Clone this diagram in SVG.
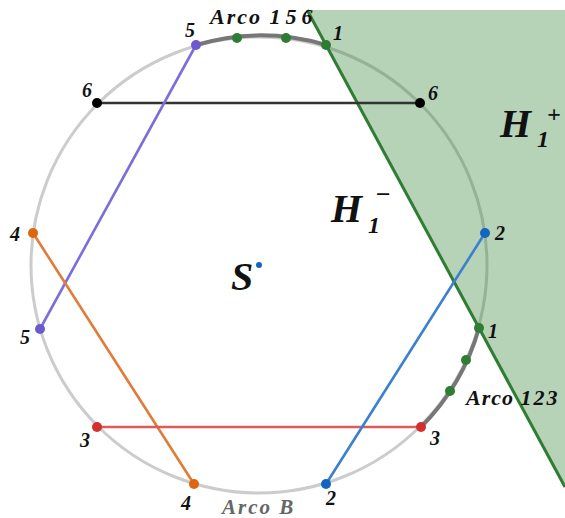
<svg xmlns="http://www.w3.org/2000/svg" width="565" height="518" viewBox="0 0 565 518">
<style>
.lbl{font-family:"Liberation Serif","DejaVu Serif",serif;font-style:italic;font-weight:bold;fill:#111;font-size:20px}
.arc{font-family:"Liberation Serif","DejaVu Serif",serif;font-style:italic;font-weight:bold;fill:#111;font-size:22px;letter-spacing:2px}
.big{font-family:"Liberation Serif","DejaVu Serif",serif;font-style:italic;font-weight:bold;fill:#111}
.seg{stroke-width:2.6;fill:none}
</style>
<rect width="565" height="518" fill="#fff"/>
<g id="circle"><circle cx="259" cy="265" r="228" fill="none" stroke="#cccccc" stroke-width="3"/></g>
<g id="halfplane"><polygon points="307.1,10 565,10 565,487" fill="#2e7d32" fill-opacity="0.35"/></g>
<g id="arcs" fill="none" stroke="#777" stroke-width="4">
<path d="M196,45 A228,228 0 0 1 326,45"/>
<path d="M479,328 A228,228 0 0 1 421,427"/>
</g>
<g id="connectors">
<line x1="307.1" y1="10" x2="565" y2="487" stroke="#2e7d32" stroke-width="3"/>
<line class="seg" x1="97" y1="103" x2="420" y2="103" stroke="#333"/>
<line class="seg" x1="196" y1="45" x2="40" y2="329" stroke="#7b6ddc"/>
<line class="seg" x1="33" y1="233" x2="194" y2="484" stroke="#e07b39"/>
<line class="seg" x1="97" y1="427" x2="421" y2="427" stroke="#dd5a5a"/>
<line class="seg" x1="485" y1="233" x2="326" y2="484" stroke="#3a80d0"/>
</g>
<g id="points">
<circle cx="97" cy="103" r="5" fill="#000"/>
<circle cx="420" cy="103" r="5" fill="#000"/>
<circle cx="196" cy="45" r="5" fill="#6a5acd"/>
<circle cx="40" cy="329" r="5" fill="#6a5acd"/>
<circle cx="33" cy="233" r="5" fill="#e0650f"/>
<circle cx="194" cy="484" r="5" fill="#e0650f"/>
<circle cx="97" cy="427" r="5" fill="#d32f2f"/>
<circle cx="421" cy="427" r="5" fill="#d32f2f"/>
<circle cx="485" cy="233" r="5" fill="#1565c0"/>
<circle cx="326" cy="484" r="5" fill="#1565c0"/>
<circle cx="326" cy="45" r="5" fill="#2e7d32"/>
<circle cx="237" cy="38" r="5" fill="#2e7d32"/>
<circle cx="286" cy="38" r="5" fill="#2e7d32"/>
<circle cx="479" cy="328" r="5" fill="#2e7d32"/>
<circle cx="466" cy="360" r="5" fill="#2e7d32"/>
<circle cx="450" cy="391" r="5" fill="#2e7d32"/>
<circle cx="259" cy="265" r="3" fill="#1565c0"/>
</g>
<g id="labels">
<text class="lbl" x="185" y="37">5</text>
<text class="arc" x="210" y="24">Arco <tspan letter-spacing="5">156</tspan></text>
<text class="lbl" x="333" y="40">1</text>
<text class="lbl" x="82" y="97">6</text>
<text class="lbl" x="428" y="100">6</text>
<text class="lbl" x="495" y="240">2</text>
<text class="lbl" x="10" y="241">4</text>
<text class="lbl" x="20" y="344">5</text>
<text class="lbl" x="488" y="338">1</text>
<text class="arc" x="466" y="405" style="letter-spacing:1px">Arco <tspan letter-spacing="2">123</tspan></text>
<text class="lbl" x="80" y="447">3</text>
<text class="lbl" x="430" y="445">3</text>
<text class="lbl" x="181" y="510">4</text>
<text class="lbl" x="326" y="505">2</text>
<text class="arc" x="222" y="514" style="fill:#666;font-size:21px">Arco B</text>
<text class="big" x="231" y="290" font-size="40">S</text>
<text class="big" x="331" y="222" font-size="40">H</text>
<text class="big" x="368" y="233" font-size="24">1</text>
<text class="big" x="375" y="203" font-size="26">−</text>
<text class="big" x="500" y="137" font-size="40">H</text>
<text class="big" x="537" y="147" font-size="24">1</text>
<text class="big" x="547" y="122" font-size="24">+</text>
</g>
</svg>
